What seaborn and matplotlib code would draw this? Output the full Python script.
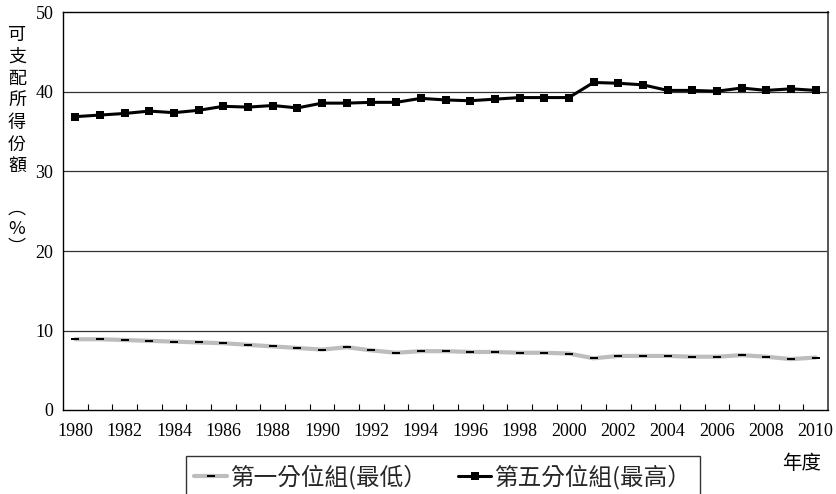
import numpy as np
import pandas as pd
import seaborn as sns
import matplotlib
matplotlib.use("Agg")
from matplotlib import pyplot as plt
from matplotlib.ticker import FixedLocator

# data
years = list(range(1980, 2011))
q1_low = [8.9, 8.9, 8.8, 8.7, 8.6, 8.5, 8.4, 8.2, 8.0, 7.8, 7.6, 7.9, 7.5, 7.2, 7.4, 7.4,
          7.3, 7.3, 7.2, 7.2, 7.1, 6.5, 6.8, 6.8, 6.8, 6.7, 6.7, 6.9, 6.7, 6.4, 6.6]
q5_high = [36.9, 37.1, 37.3, 37.6, 37.4, 37.7, 38.2, 38.1, 38.3, 38.0, 38.6, 38.6, 38.7,
           38.7, 39.2, 39.0, 38.9, 39.1, 39.3, 39.3, 39.3, 41.2, 41.1, 40.9, 40.2, 40.2,
           40.1, 40.5, 40.2, 40.4, 40.2]
label_low = "第一分位組(最低）"
label_high = "第五分位組(最高）"
ylabel_chars = ["可", "支", "配", "所", "得", "份", "額", "︵", "%", "︶"]

df = pd.DataFrame({"year": years, "low": q1_low, "high": q5_high})

sns.set_theme(style="white")
serif = ["Liberation Serif", "DejaVu Serif"]
cjk = ["Noto Sans CJK TC", "DejaVu Sans"]
plt.rcParams["font.family"] = serif

fig = plt.figure(figsize=(8.37, 4.94), dpi=100)
ax = fig.add_axes([63 / 837, 1 - 410 / 494, 765 / 837, 397.5 / 494])

dash = [(-1, -0.35), (1, -0.35), (1, 0.35), (-1, 0.35)]
sns.lineplot(data=df, x="year", y="low", ax=ax, color="#bdbdbd", lw=3.0,
             marker=dash, ms=6, mfc="black", mec="black", mew=0, label=label_low)
sns.lineplot(data=df, x="year", y="high", ax=ax, color="black", lw=2.2,
             marker="s", ms=6, mfc="black", mec="black", mew=0, label=label_high)

ax.set_xlim(1979.5, 2010.5)
ax.set_ylim(0, 50)
ax.set_yticks([0, 10, 20, 30, 40, 50])
ax.set_xticks(years[::2])
ax.xaxis.set_minor_locator(FixedLocator([y + 0.5 for y in years[:-1]]))
ax.tick_params(axis="x", which="major", length=0, pad=9, labelsize=13, colors="black")
ax.tick_params(axis="x", which="minor", direction="in", length=4, width=0.8,
               color="black", bottom=True)
ax.tick_params(axis="y", length=0, pad=7, labelsize=13, colors="black")
for lab in ax.get_xticklabels() + ax.get_yticklabels():
    lab.set_fontfamily(serif)

for y in [10, 20, 30, 40]:
    ax.axhline(y, color="#333333", lw=0.9, zorder=0)
for sp in ax.spines.values():
    sp.set_color("black")
    sp.set_linewidth(1.0)
ax.spines["right"].set_color("#555555")
ax.spines["right"].set_linewidth(1.4)

ax.set_xlabel("")
ax.set_ylabel("")

# vertical y-axis title, one character per row
ypix = [35, 57, 79, 101, 123, 145, 167, 209, 229, 248]
for ch, yp in zip(ylabel_chars, ypix):
    fig.text(17 / 837, 1 - yp / 494, ch, ha="center", va="center",
             fontsize=13, family=cjk, color="black")

fig.text(802 / 837, 1 - 463 / 494, "年度", ha="center", va="center",
         fontsize=14, family=cjk, color="black")

handles, labels = ax.get_legend_handles_labels()
ax.get_legend().remove()
leg = fig.legend(handles, labels, loc="upper center", ncol=2,
                 bbox_to_anchor=(443 / 837, 1 - 456 / 494),
                 prop={"family": cjk, "size": 17}, frameon=True, fancybox=False,
                 edgecolor="black", handlelength=1.4, handletextpad=0.15,
                 columnspacing=1.3, borderpad=0.35, borderaxespad=0)
leg.get_frame().set_linewidth(1.0)

fig.savefig("out.png", dpi=100)
